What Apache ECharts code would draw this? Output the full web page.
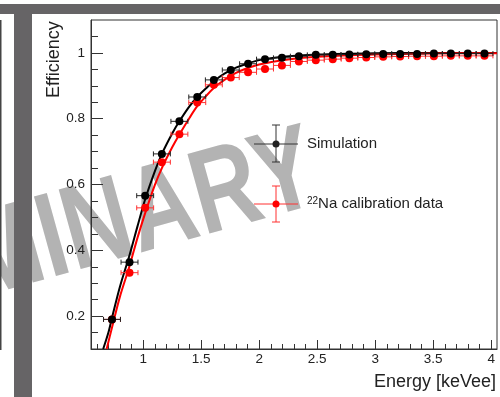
<!DOCTYPE html>
<html><head><meta charset="utf-8">
<script src="https://cdn.jsdelivr.net/npm/echarts@6/dist/echarts.min.js"></script>
<style>html,body{margin:0;padding:0;background:#fff}#c{width:500px;height:397px}</style>
</head><body><div id="c"></div>
<script>
// ---- data ----
const energy = [0.731,0.882,1.017,1.161,1.312,1.466,1.609,1.755,1.904,2.050,2.196,2.342,2.488,2.634,2.777,2.923,3.069,3.215,3.361,3.506,3.652,3.798,3.942];
const simEff = [0.190,0.364,0.566,0.693,0.792,0.866,0.918,0.948,0.967,0.981,0.985,0.990,0.994,0.994,0.995,0.996,0.997,0.997,0.997,0.998,0.998,0.998,0.998];
const naEff  = [0.190,0.332,0.529,0.668,0.753,0.849,0.903,0.925,0.941,0.951,0.962,0.974,0.978,0.981,0.984,0.986,0.988,0.989,0.990,0.990,0.991,0.991,0.991];
const simErr = [0.006,0.006,0.006,0.006,0.005,0.005,0.004,0.004,0.003,0.003,0.003,0.002,0.002,0.002,0.002,0.002,0.002,0.002,0.002,0.002,0.002,0.002,0.002];
const naErr  = [0.010,0.010,0.010,0.009,0.008,0.007,0.006,0.006,0.005,0.005,0.004,0.004,0.004,0.003,0.003,0.003,0.003,0.003,0.003,0.003,0.003,0.003,0.003];
const binHalfWidth = 0.073;
const simFitX = [0.655,0.70,0.731,0.80,0.882,0.95,1.017,1.10,1.161,1.25,1.312,1.40,1.466,1.55,1.609,1.70,1.80,1.90,2.00,2.20,2.50,3.00,3.50,4.05];
const simFitY = [0.100,0.150,0.195,0.290,0.385,0.472,0.555,0.640,0.693,0.755,0.792,0.838,0.866,0.895,0.914,0.937,0.955,0.968,0.978,0.988,0.995,0.999,1.000,1.000];
const naFitX  = [0.685,0.731,0.80,0.882,0.95,1.017,1.10,1.161,1.25,1.312,1.40,1.466,1.55,1.609,1.70,1.80,1.90,2.00,2.20,2.50,3.00,3.50,4.05];
const naFitY  = [0.100,0.165,0.260,0.352,0.437,0.513,0.598,0.650,0.713,0.752,0.803,0.838,0.872,0.893,0.918,0.939,0.954,0.965,0.978,0.988,0.995,0.998,0.999];
const xTickLabels = [1,1.5,2,2.5,3,3.5,4];
const yTickLabels = [0.2,0.4,0.6,0.8,1];
const xRange = [0.55, 4.05];
const yRange = [0.1, 1.1];
const seriesNames = ['Simulation', 'Na calibration data'];

// minor tick positions
const xMinor = []; for (let i = 6; i <= 40; i++) xMinor.push(+(i*0.1).toFixed(2));
const yMinor = []; for (let i = 3; i <= 21; i++) yMinor.push(+(i*0.05).toFixed(2));

const FONT = 'Liberation Sans, Arial, sans-serif';
const chart = echarts.init(document.getElementById('c'), null, {renderer: 'canvas'});

function errBars(xs, ys, es, color) {
  return {
    type: 'custom', z: 3, silent: true,
    data: xs.map((x, i) => [x, ys[i], es[i]]),
    renderItem: (params, api) => {
      const x = api.value(0), y = api.value(1), e = api.value(2);
      const l = api.coord([x - binHalfWidth, y]);
      const r = api.coord([x + binHalfWidth, y]);
      const t = api.coord([x, y + e]);
      const b = api.coord([x, y - e]);
      const st = {stroke: color, lineWidth: 1};
      return {type: 'group', children: [
        {type: 'line', shape: {x1: l[0], y1: l[1], x2: r[0], y2: r[1]}, style: st},
        {type: 'line', shape: {x1: l[0], y1: l[1]-2.5, x2: l[0], y2: l[1]+2.5}, style: st},
        {type: 'line', shape: {x1: r[0], y1: r[1]-2.5, x2: r[0], y2: r[1]+2.5}, style: st},
        {type: 'line', shape: {x1: t[0], y1: t[1], x2: b[0], y2: b[1]}, style: st}
      ]};
    }
  };
}

const gridL = 91, gridT = 20, gridW = 406, gridH = 329;

chart.setOption({
  animation: false,
  backgroundColor: '#fff',
  grid: {left: gridL, top: gridT, width: gridW, height: gridH, show: true, borderColor: '#333', borderWidth: 1, backgroundColor: 'transparent'},
  xAxis: [
    {type: 'value', min: xRange[0], max: xRange[1], position: 'bottom',
     axisLine: {show: true, lineStyle: {color: '#333'}},
     axisTick: {show: true, inside: true, length: 9, customValues: xTickLabels, lineStyle: {color: '#333'}},
     axisLabel: {customValues: xTickLabels, formatter: v => String(v), fontSize: 13.5, fontFamily: FONT, color: '#222', margin: 3},
     splitLine: {show: false}},
    {type: 'value', min: xRange[0], max: xRange[1], position: 'bottom',
     axisLine: {show: false},
     axisTick: {show: true, inside: true, length: 5, customValues: xMinor, lineStyle: {color: '#333'}},
     axisLabel: {show: false}, splitLine: {show: false}}
  ],
  yAxis: [
    {type: 'value', min: yRange[0], max: yRange[1], position: 'left',
     axisLine: {show: true, lineStyle: {color: '#333'}},
     axisTick: {show: true, inside: true, length: 12, customValues: yTickLabels, lineStyle: {color: '#333'}},
     axisLabel: {customValues: yTickLabels, formatter: v => String(v), fontSize: 13.5, fontFamily: FONT, color: '#222', margin: 6},
     splitLine: {show: false}},
    {type: 'value', min: yRange[0], max: yRange[1], position: 'left',
     axisLine: {show: false},
     axisTick: {show: true, inside: true, length: 7, customValues: yMinor, lineStyle: {color: '#333'}},
     axisLabel: {show: false}, splitLine: {show: false}}
  ],
  series: [
    {type: 'line', name: seriesNames[0] + ' fit', z: 2, data: simFitX.map((x, i) => [x, simFitY[i]]), smooth: 0.3, symbol: 'none', lineStyle: {color: '#000', width: 2}},
    {type: 'line', name: seriesNames[1] + ' fit', z: 2, data: naFitX.map((x, i) => [x, naFitY[i]]), smooth: 0.3, symbol: 'none', lineStyle: {color: '#ff0000', width: 2}},
    errBars(energy, naEff, naErr, '#ff3030'),
    {type: 'scatter', name: seriesNames[1], z: 4, data: energy.map((x, i) => [x, naEff[i]]), symbolSize: 8, itemStyle: {color: '#ff0000', opacity: 1}},
    errBars(energy, simEff, simErr, '#222'),
    {type: 'scatter', name: seriesNames[0], z: 5, data: energy.map((x, i) => [x, simEff[i]]), symbolSize: 8, itemStyle: {color: '#000', opacity: 1}}
  ],
  graphic: [
    // watermark
    {type: 'text', z: -10, x: 315, y: 170, rotation: 0.27, scaleX: 0.77, scaleY: 1, silent: true,
     style: {text: 'PRELIMINARY', font: 'bold 120px ' + FONT, fill: '#b3b3b3', align: 'right', verticalAlign: 'middle'}},
    // page decorations
    {type: 'rect', z: 100, shape: {x: 0, y: 4, width: 500, height: 10}, style: {fill: '#666466'}},
    {type: 'rect', z: 100, shape: {x: 14, y: 14, width: 18, height: 383}, style: {fill: '#666466'}},
    {type: 'rect', z: 100, shape: {x: 0, y: 20, width: 1.5, height: 330}, style: {fill: '#444'}},
    // axis titles
    {type: 'text', z: 50, x: 45, y: 98, rotation: Math.PI/2,
     style: {text: 'Efficiency', font: '18px ' + FONT, fill: '#222', align: 'left', verticalAlign: 'top'}},
    {type: 'text', z: 50, x: 496, y: 382,
     style: {text: 'Energy [keVee]', font: '18px ' + FONT, fill: '#222', align: 'right', verticalAlign: 'middle'}},
    // legend: Simulation
    {type: 'line', z: 50, shape: {x1: 254, y1: 144, x2: 298, y2: 144}, style: {stroke: '#333', lineWidth: 1}},
    {type: 'line', z: 50, shape: {x1: 276, y1: 125, x2: 276, y2: 162}, style: {stroke: '#333', lineWidth: 1}},
    {type: 'line', z: 50, shape: {x1: 272, y1: 125, x2: 280, y2: 125}, style: {stroke: '#333', lineWidth: 1}},
    {type: 'line', z: 50, shape: {x1: 272, y1: 162, x2: 280, y2: 162}, style: {stroke: '#333', lineWidth: 1}},
    {type: 'circle', z: 51, shape: {cx: 276, cy: 144, r: 3.5}, style: {fill: '#222'}},
    {type: 'text', z: 50, x: 307, y: 144,
     style: {text: seriesNames[0], font: '15px ' + FONT, fill: '#222', align: 'left', verticalAlign: 'middle'}},
    // legend: Na
    {type: 'line', z: 50, shape: {x1: 254, y1: 204, x2: 298, y2: 204}, style: {stroke: '#ff3030', lineWidth: 1}},
    {type: 'line', z: 50, shape: {x1: 276, y1: 186, x2: 276, y2: 222}, style: {stroke: '#ff3030', lineWidth: 1}},
    {type: 'line', z: 50, shape: {x1: 272, y1: 186, x2: 280, y2: 186}, style: {stroke: '#ff3030', lineWidth: 1}},
    {type: 'line', z: 50, shape: {x1: 272, y1: 222, x2: 280, y2: 222}, style: {stroke: '#ff3030', lineWidth: 1}},
    {type: 'circle', z: 51, shape: {cx: 276, cy: 204, r: 3.5}, style: {fill: '#ff0000'}},
    {type: 'text', z: 50, x: 307, y: 204,
     style: {text: '{sup|22}{n|' + seriesNames[1] + '}', fill: '#222', align: 'left', verticalAlign: 'middle',
       rich: {sup: {fontSize: 10, fontFamily: FONT, fill: '#222', verticalAlign: 'top', padding: [0,0,6,0]}, n: {fontSize: 15, fontFamily: FONT, fill: '#222'}}}}
  ]
});
</script></body></html>
